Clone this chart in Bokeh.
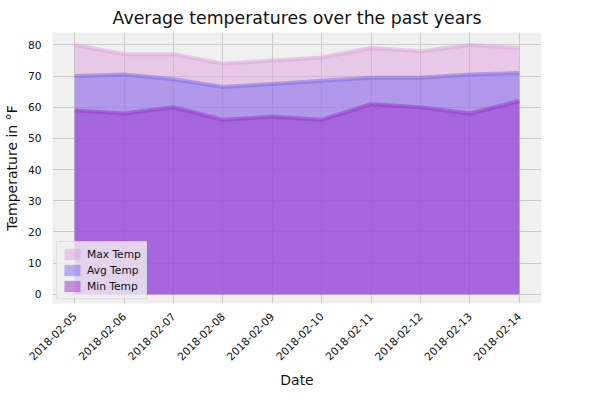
import math
from bokeh.plotting import figure
from bokeh.embed import file_html
from bokeh.resources import INLINE
from bokeh.models import FixedTicker, Range1d

dates = ["2018-02-05", "2018-02-06", "2018-02-07", "2018-02-08", "2018-02-09",
         "2018-02-10", "2018-02-11", "2018-02-12", "2018-02-13", "2018-02-14"]
max_temp = [80, 77, 77, 74, 75, 76, 79, 78, 80, 79]
avg_temp = [70, 70.5, 69, 66.5, 67.5, 68.5, 69.5, 69.5, 70.5, 71]
min_temp = [59, 58, 60, 56, 57, 56, 61, 60, 58, 62]

xs = list(range(len(dates)))

p = figure(width=591, height=390, output_backend="svg", toolbar_location=None,
           title="Average temperatures over the past years",
           x_range=Range1d(-0.45, 9.45), y_range=Range1d(-3, 84),
           min_border_left=40, min_border_right=50, min_border_top=10)

p.background_fill_color = "#f0f0f0"
p.border_fill_color = "white"
p.outline_line_color = None
p.title.align = "center"
p.title.text_font = "DejaVu Sans"
p.title.text_font_size = "13pt"
p.title.text_font_style = "normal"
p.title.text_color = "#111111"
p.grid.grid_line_color = "#cbcbcb"
p.grid.grid_line_width = 1

series = [("Max Temp", max_temp, "#dda0dd"),
          ("Avg Temp", avg_temp, "#7b68ee"),
          ("Min Temp", min_temp, "#9932cc")]
for name, vals, col in series:
    p.varea(x=xs, y1=[0] * len(xs), y2=vals, fill_color=col, fill_alpha=0.5,
            legend_label=name)
    p.line(xs, vals, line_color=col, line_width=4, line_alpha=0.5)

p.xaxis.ticker = FixedTicker(ticks=xs)
p.xaxis.major_label_overrides = {i: d for i, d in enumerate(dates)}
p.xaxis.major_label_orientation = math.pi / 4
p.yaxis.ticker = FixedTicker(ticks=list(range(0, 81, 10)))
p.xaxis.axis_label = "Date"
p.yaxis.axis_label = "Temperature in °F"
for ax in (p.xaxis, p.yaxis):
    ax.axis_label_text_font = "DejaVu Sans"
    ax.axis_label_text_font_size = "10.5pt"
    ax.axis_label_text_font_style = "normal"
    ax.axis_label_text_color = "#111111"
    ax.major_label_text_font = "DejaVu Sans"
    ax.major_label_text_font_size = "8pt"
    ax.major_label_text_color = "#111111"
    ax.axis_line_color = None
    ax.major_tick_line_color = None
    ax.minor_tick_line_color = None

p.legend.location = "bottom_left"
p.legend.background_fill_color = "#f0f0f0"
p.legend.background_fill_alpha = 0.8
p.legend.border_line_color = "#cccccc"
p.legend.label_text_font = "DejaVu Sans"
p.legend.label_text_font_size = "8pt"
p.legend.label_text_color = "#111111"
p.legend.glyph_height = 14
p.legend.spacing = 2
p.legend.padding = 5
p.legend.margin = 4

open("out.html", "w").write(file_html(p, INLINE))
